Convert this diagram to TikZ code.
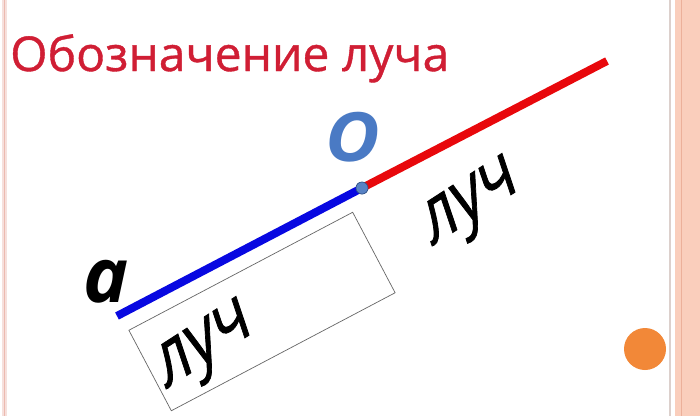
\documentclass[tikz,border=0pt]{standalone}
\usepackage{fontspec}
\setmainfont{Open Sans}
\newfontfamily\boldish{Open Sans}[FakeBold=1.2]
\newfontfamily\titlefont{Open Sans}[FakeBold=0.8]
\usetikzlibrary{shapes.geometric}
\definecolor{titlered}{RGB}{208,30,52}
\definecolor{rayblue}{RGB}{8,8,225}
\definecolor{rayred}{RGB}{232,8,12}
\definecolor{oblue}{RGB}{74,122,196}
\definecolor{dotblue}{RGB}{88,130,196}
\definecolor{peach}{RGB}{250,206,188}
\definecolor{peachdark}{RGB}{236,176,154}
\definecolor{pinkline}{RGB}{236,186,176}
\definecolor{greyline}{RGB}{220,208,204}
\definecolor{orangedot}{RGB}{242,136,56}
\tikzset{
  ray/.style={line width=8pt, line cap=butt},
  lbl/.style={inner sep=0pt, font=\boldish\fontsize{80}{80}\selectfont, xscale=0.72, rotate=25},
  dotstyle/.style={circle, fill=dotblue, draw=oblue!70!black, line width=0.6pt, minimum size=12pt, inner sep=0pt},
}
\begin{document}
\begin{tikzpicture}[x=1pt,y=-1pt]
\useasboundingbox (0,0) rectangle (700,416);
\fill[white] (0,0) rectangle (700,416);
% slide borders
\fill[pinkline!45] (2,0) rectangle (7,416);
\draw[pinkline, line width=1.6pt] (4.5,0) -- (4.5,416);
\draw[greyline, line width=1.6pt] (670,0) -- (670,416);
\fill[peach] (675,0) rectangle (700,416);
\draw[peachdark, line width=1pt] (681,0) -- (681,416);
% title
\node[anchor=base west, inner sep=0pt, text=titlered, font=\titlefont\fontsize{48}{48}\selectfont] (title) at (10,71) {Обозначение луча};
% frame
\node[draw=black!60, line width=0.7pt, rotate=27.8, minimum width=253pt, minimum height=91pt, inner sep=0pt] (frame) at (262,311.5) {};
% rays
\coordinate (A) at (117,316);
\coordinate (E) at (607,61);
\node[dotstyle] (O) at (362,188) {};
\draw[ray, rayblue] (A) -- (O.center);
\draw[ray, rayred] (O.center) -- (E);
\node[dotstyle] at (O.center) {};
% letters
\node[inner sep=0pt, text=oblue, xscale=1.1, font=\fontsize{68}{68}\selectfont\bfseries\itshape] (Olbl) at (353,137) {O};
\node[inner sep=0pt, text=black, font=\fontsize{76}{76}\selectfont\bfseries\itshape] (albl) at (106,282) {a};
\node[lbl] (ray1) at (472,207) {луч};
\node[lbl] (ray2) at (206,350) {луч};
% orange dot
\fill[orangedot] (645,349) circle (21);
\end{tikzpicture}
\end{document}
